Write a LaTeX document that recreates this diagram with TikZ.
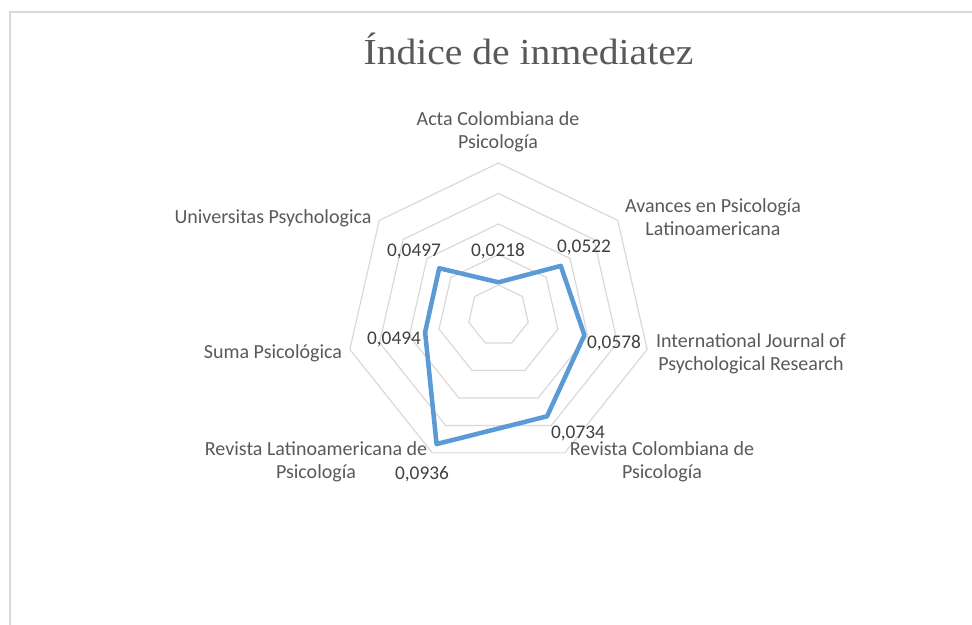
\documentclass[tikz,border=0pt]{standalone}
\usepackage{fontspec}
\setmainfont{Carlito}
\newfontfamily\titlefont{Liberation Serif}
\usetikzlibrary{shapes.geometric,positioning}
\definecolor{gridgray}{HTML}{D9D9D9}
\definecolor{textgray}{HTML}{595959}
\definecolor{valgray}{HTML}{404040}
\definecolor{seriesblue}{HTML}{5B9BD5}
\tikzset{
	ring/.style={
		regular polygon,
		regular polygon sides=7,
		draw=gridgray, line width=0.9pt,
		inner sep=0pt, outer sep=0pt,
	},
	axislabel/.style={
		text=textgray,
		font=\fontsize{15}{17.25}\selectfont,
		align=center,
		inner sep=0pt,
	},
	vallabel/.style={
		text=valgray,
		font=\fontsize{14.5}{17.25}\selectfont,
		inner sep=0pt,
		anchor=base,
	},
	series/.style={
		draw=seriesblue, line width=3.4pt, line join=round,
	},
}

\begin{document}
\begin{tikzpicture}[x=0.75pt, y=0.75pt]
\useasboundingbox (0,0) rectangle (972,625);
% chart frame
\draw[gridgray, line width=1.2pt] (10,0) -- (10,613) -- (972,613);

\node	(title)	[text=textgray, font=\titlefont\fontsize{27.5}{30}\selectfont, anchor=base, xscale=1.08]	at (528.5,560)	{Índice de inmediatez};

% grid
\coordinate (center) at (498.5,309.5);
\node	(ring1)	[ring, minimum size=45.75pt]	at (center)	{};
\node	(ring2)	[ring, minimum size=91.5pt]	at (center)	{};
\node	(ring3)	[ring, minimum size=137.25pt]	at (center)	{};
\node	(ring4)	[ring, minimum size=183pt]	at (center)	{};
\node	(ring5)	[ring, minimum size=228.75pt]	at (center)	{};

% axis names
\node	(acta)	[axislabel]	at (498,493)	{Acta Colombiana de\\Psicología};
\node	(avances)	[axislabel]	at (713,408)	{Avances en Psicología\\Latinoamericana};
\node	(ijpr)	[axislabel]	at (751,271.5)	{International Journal of\\Psychological Research};
\node	(rcp)	[axislabel]	at (662,163.5)	{Revista Colombiana de\\Psicología};
\node	(rlp)	[axislabel]	at (316,163.5)	{Revista Latinoamericana de\\Psicología};
\node	(suma)	[axislabel]	at (273,272)	{Suma Psicológica};
\node	(univ)	[axislabel]	at (273,407)	{Universitas Psychologica};

% values
\coordinate (acta_pt) at ([shift={(90:33.2)}]center);
\coordinate (avances_pt) at ([shift={(38.571:79.6)}]center);
\coordinate (ijpr_pt) at ([shift={(-12.857:88.1)}]center);
\coordinate (rcp_pt) at ([shift={(-64.286:111.9)}]center);
\coordinate (rlp_pt) at ([shift={(-115.714:142.7)}]center);
\coordinate (suma_pt) at ([shift={(-167.143:75.3)}]center);
\coordinate (univ_pt) at ([shift={(141.429:75.8)}]center);
\draw[series] (acta_pt) -- (avances_pt) -- (ijpr_pt) -- (rcp_pt) -- (rlp_pt) -- (suma_pt) -- (univ_pt) -- cycle;

\node	(acta_val)	[vallabel]	at (498,368)	{0,0218};
\node	(avances_val)	[vallabel]	at (584,372)	{0,0522};
\node	(ijpr_val)	[vallabel]	at (614,276)	{0,0578};
\node	(rcp_val)	[vallabel]	at (578,186)	{0,0734};
\node	(rlp_val)	[vallabel]	at (422,145)	{0,0936};
\node	(suma_val)	[vallabel]	at (394,280)	{0,0494};
\node	(univ_val)	[vallabel]	at (414,368)	{0,0497};

\end{tikzpicture}
\end{document}
